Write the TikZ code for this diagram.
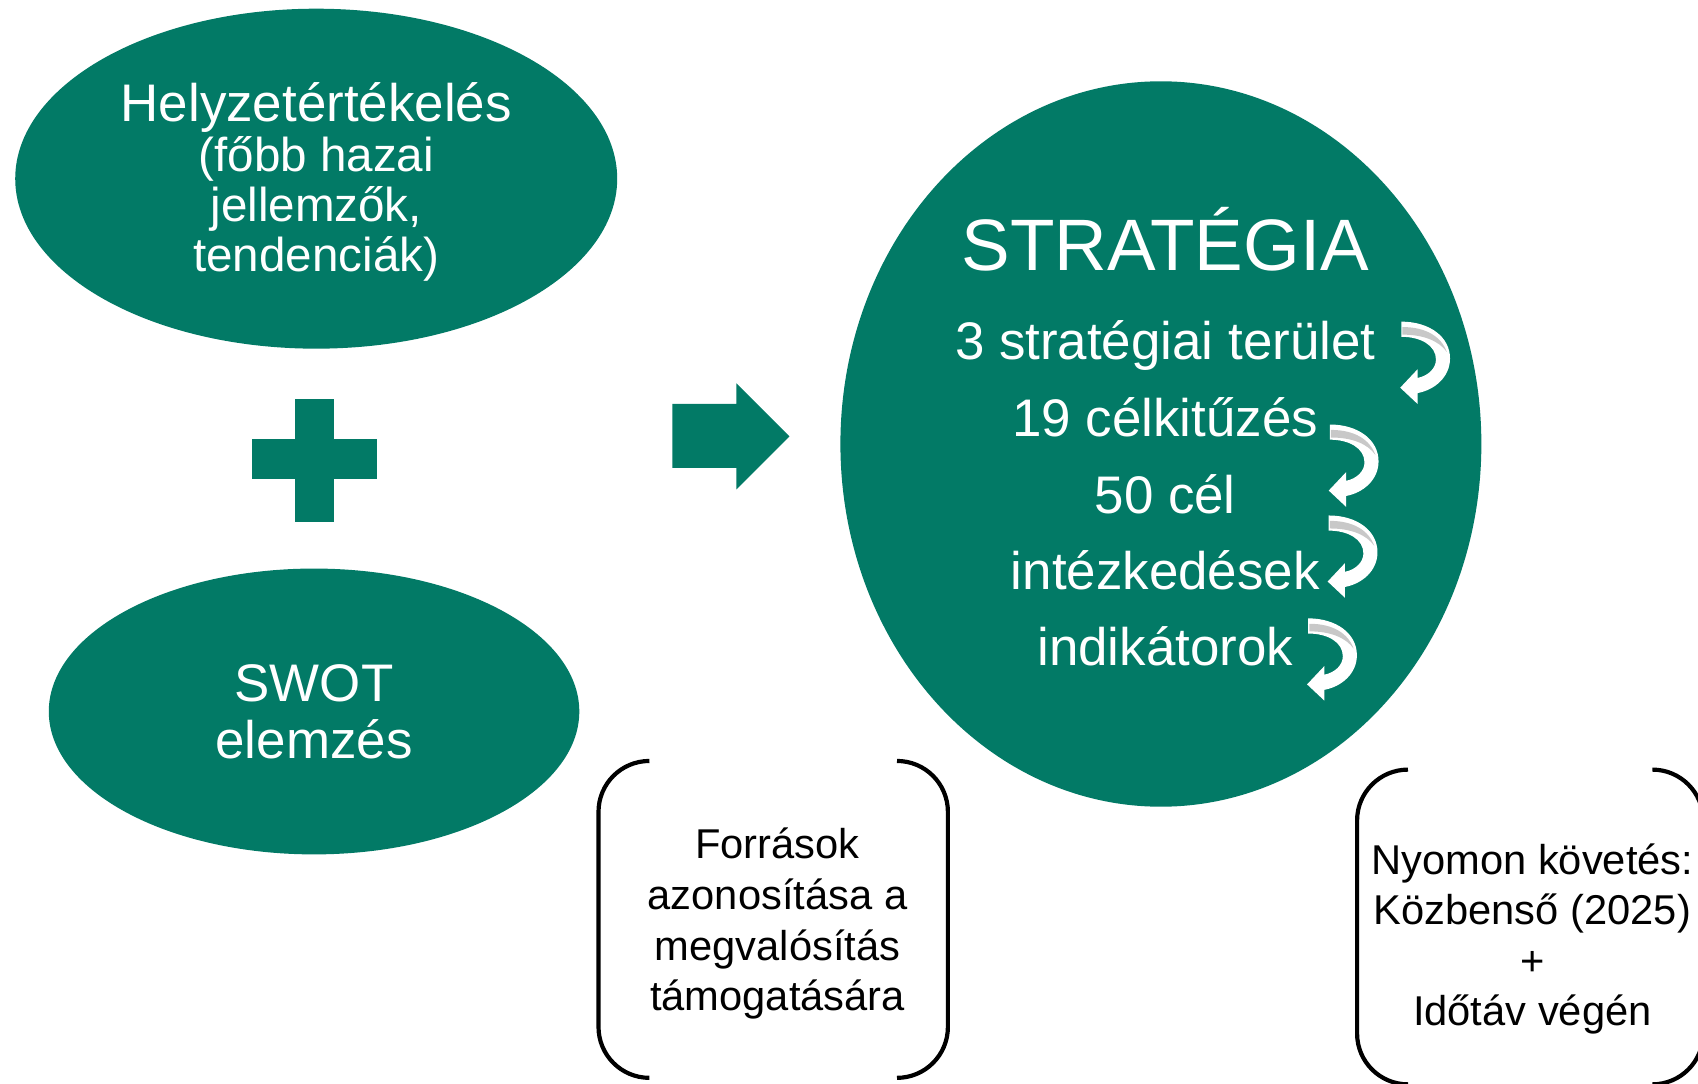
\documentclass[tikz,border=0pt]{standalone}
\usepackage{fontspec}
\setmainfont{Liberation Sans}
\usetikzlibrary{shapes.geometric}
\definecolor{stratgreen}{RGB}{2,122,102}
\definecolor{ribbongray}{RGB}{200,200,200}
\newcommand{\smallerline}{\fontsize{25}{26.2}\selectfont}
\tikzset{
  blob/.style={ellipse, fill=stratgreen, text=white, inner sep=0pt, align=center},
  blobtext/.style={text=white, inner sep=0pt, align=center},
  stratline/.style={text=white, anchor=base, inner sep=0pt, font=\fontsize{27.8}{33}\selectfont},
  note/.style={align=center, inner sep=0pt, font=\fontsize{21.9}{26.6}\selectfont},
  bracketbox/.style={inner sep=0pt},
  bracketline/.style={line width=2.2pt, rounded corners=0.94cm},
  turn/.pic={
    \fill[white] (0,0) .. controls (26,0) and (45,14) .. (45,34) .. controls (45,51) and (31,63) .. (15,66) -- (15,76) -- (-1,61) -- (15,44) -- (15,52) .. controls (25,50) and (32,43) .. (32,35) .. controls (32,22) and (18,14) .. (0,14) -- cycle;
    \fill[ribbongray] (1,5) .. controls (23,5) and (37,14) .. (42,28) .. controls (35,18) and (21,12) .. (1,12) -- cycle;
  }
}
\begin{document}
\begin{tikzpicture}[x=0.02cm,y=-0.02cm]
\useasboundingbox (0,0) rectangle (1568,1001);
\clip (0,0) rectangle (1568,1001);
\node[blob, minimum width=11.12cm, minimum height=6.28cm] (helyzet) at (292,165) {};
\node[blobtext, font=\fontsize{27.8}{26.2}\selectfont] (helyzetszoveg) at (292,168) {Helyzetértékelés\\\smallerline(főbb hazai\\\smallerline jellemzők,\\\smallerline tendenciák)};
\fill[stratgreen] (272,368) rectangle (308,482);
\fill[stratgreen] (233,405) rectangle (348,442);
\node[blob, minimum width=9.8cm, minimum height=5.28cm, font=\fontsize{27.8}{30}\selectfont] (swot) at (290,657) {SWOT\\elemzés};
\fill[stratgreen] (621,373) -- (680,373) -- (680,354) -- (729,403) -- (680,452) -- (680,432) -- (621,432) -- cycle;
\node[ellipse, fill=stratgreen, inner sep=0pt, minimum width=11.84cm, minimum height=13.4cm] (strategia) at (1072,410) {};
\node[stratline, font=\fontsize{38.3}{40}\selectfont] (cim) at (1076,250) {STRATÉGIA};
\node[stratline] (terulet) at (1076,332) {3 stratégiai terület};
\node[stratline] (celkituzes) at (1076,403) {19 célkitűzés};
\node[stratline] (cel) at (1076,474) {50 cél};
\node[stratline] (intezkedes) at (1076,544) {intézkedések};
\node[stratline] (indikator) at (1076,615) {indikátorok};
\pic at (1294,297) {turn};
\pic at (1228,392) {turn};
\pic at (1227,476) {turn};
\pic at (1208,571) {turn};
\node[bracketbox, minimum width=6.44cm, minimum height=5.84cm] (forrasbox) at (714,849) {};
\node[note] (forras) at (718,853) {Források\\azonosítása a\\megvalósítás\\támogatására};
\draw[bracketline] ([shift={(47,0)}]forrasbox.north west) -- (forrasbox.north west) -- (forrasbox.south west) -- ([shift={(47,0)}]forrasbox.south west);
\draw[bracketline] ([shift={(-47,0)}]forrasbox.north east) -- (forrasbox.north east) -- (forrasbox.south east) -- ([shift={(-47,0)}]forrasbox.south east);
\node[bracketbox, minimum width=6.38cm, minimum height=5.8cm] (kovetesbox) at (1413,856) {};
\node[note] (kovetes) at (1415,867) {Nyomon követés:\\Közbenső (2025)\\+\\Időtáv végén};
\draw[bracketline] ([shift={(47,0)}]kovetesbox.north west) -- (kovetesbox.north west) -- (kovetesbox.south west) -- ([shift={(47,0)}]kovetesbox.south west);
\draw[bracketline] ([shift={(-47,0)}]kovetesbox.north east) -- (kovetesbox.north east) -- (kovetesbox.south east) -- ([shift={(-47,0)}]kovetesbox.south east);
\end{tikzpicture}
\end{document}
